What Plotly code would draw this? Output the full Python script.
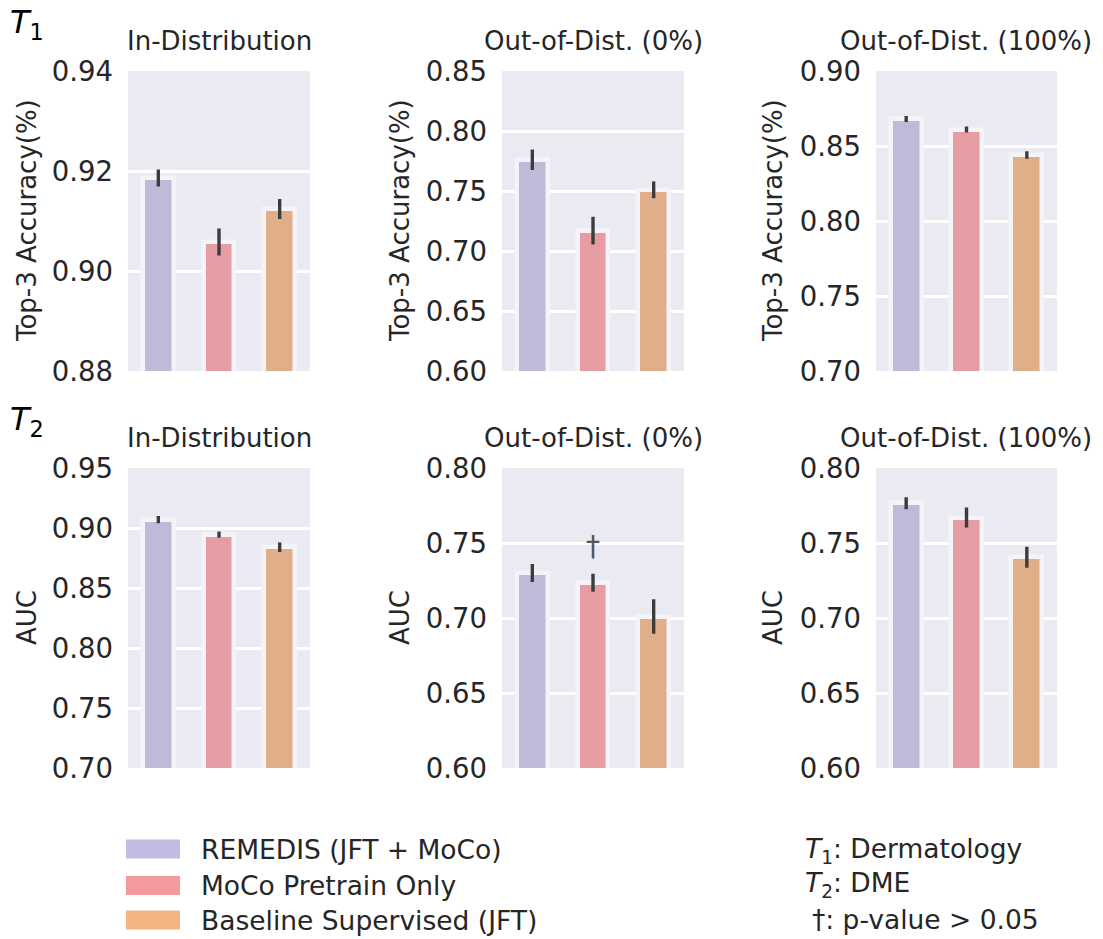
import plotly.graph_objects as go
from plotly.subplots import make_subplots

# ---- data -------------------------------------------------------------
methods = ["REMEDIS (JFT + MoCo)", "MoCo Pretrain Only", "Baseline Supervised (JFT)"]
bar_colors = ["#BEBBD9", "#E59DA3", "#E0AE89"]
legend_colors = ["#C1BCE1", "#F49A9F", "#F4B583"]

panel_titles = ["In-Distribution", "Out-of-Dist. (0%)", "Out-of-Dist. (100%)"]

# T1: Dermatology, top-3 accuracy (mean and error half-width per method)
t1_mean = [[0.9186, 0.9058, 0.9124],
           [0.776, 0.717, 0.751],
           [0.868, 0.861, 0.844]]
t1_err = [[0.0017, 0.0027, 0.0020],
          [0.0085, 0.0115, 0.0070],
          [0.0020, 0.0020, 0.0025]]

# T2: DME, AUC
t2_mean = [[0.907, 0.8945, 0.884],
           [0.730, 0.7235, 0.701],
           [0.7765, 0.767, 0.7405]]
t2_err = [[0.003, 0.0025, 0.004],
          [0.006, 0.006, 0.0115],
          [0.004, 0.0067, 0.007]]

t1_ranges = [[0.88, 0.94], [0.60, 0.85], [0.70, 0.90]]
t1_dticks = [0.02, 0.05, 0.05]
t2_ranges = [[0.70, 0.95], [0.60, 0.80], [0.60, 0.80]]
t2_dticks = [0.05, 0.05, 0.05]

row_labels = ["Top-3 Accuracy(%)", "AUC"]
task_tags = ["<i>T</i><sub>1</sub>", "<i>T</i><sub>2</sub>"]
task_notes = ["<i>T</i><sub>1</sub>: Dermatology", "<i>T</i><sub>2</sub>: DME", "†: p-value > 0.05"]

# (row, panel, method) pairs that are not significant (p > 0.05)
not_significant = [(1, 1, 1)]

# ---- layout geometry (pixels) -----------------------------------------
W, H = 1103, 939
col_px = [(128, 310), (502, 684), (876, 1057)]
row_px = [(71, 371), (468, 768)]
ylabel_x = [27, 400, 773]

INK = "#262626"
FONT = "DejaVu Sans"


def px_x(x):
    return x / W


def px_y(y):
    return 1 - y / H


fig = make_subplots(rows=2, cols=3)

means = [t1_mean, t2_mean]
errs = [t1_err, t2_err]
ranges = [t1_ranges, t2_ranges]
dticks = [t1_dticks, t2_dticks]

xs = [0, 1, 2]
annotations = []
shapes = []

for r in range(2):
    for c in range(3):
        fig.add_trace(
            go.Bar(
                x=xs,
                y=means[r][c],
                width=0.51,
                marker=dict(color=bar_colors,
                            line=dict(color="#F4F4F8", width=4.5)),
                error_y=dict(type="data", array=errs[r][c], visible=True,
                             color="#3C3C3C", thickness=3.4, width=0),
                showlegend=False,
                hoverinfo="skip",
            ),
            row=r + 1, col=c + 1,
        )
        idx = r * 3 + c + 1
        xa = "xaxis" if idx == 1 else f"xaxis{idx}"
        ya = "yaxis" if idx == 1 else f"yaxis{idx}"
        x0, x1 = col_px[c]
        y0, y1 = row_px[r]
        fig.layout[xa].update(
            domain=[px_x(x0), px_x(x1)], range=[-0.5, 2.5],
            showticklabels=False, showgrid=False, zeroline=False,
            showline=False, ticks="", automargin=False,
        )
        lo, hi = ranges[r][c]
        fig.layout[ya].update(
            domain=[px_y(y1), px_y(y0)], range=[lo, hi],
            dtick=dticks[r][c], tick0=lo, tickformat=".2f",
            showgrid=True, gridcolor="white", gridwidth=2.5,
            zeroline=False, showline=False, ticks="",
            ticklabelstandoff=14, automargin=False,
            tickfont=dict(size=27.5, color=INK, family=FONT),
        )
        # panel title
        annotations.append(dict(
            text=panel_titles[c], x=px_x((x0 + x1) / 2), y=px_y(y0 - 13),
            xref="paper", yref="paper", xanchor="center", yanchor="bottom",
            showarrow=False, font=dict(size=26, color=INK, family=FONT),
        ))
        # y-axis label
        annotations.append(dict(
            text=row_labels[r], x=px_x(ylabel_x[c]), y=px_y((y0 + y1) / 2),
            xref="paper", yref="paper", xanchor="center", yanchor="middle",
            textangle=-90, showarrow=False,
            font=dict(size=26, color=INK, family=FONT),
        ))

# task tags at the top-left of each row
for r, tag in enumerate(task_tags):
    annotations.append(dict(
        text=tag, x=px_x(8), y=px_y(row_px[r][0] - 47),
        xref="paper", yref="paper", xanchor="left", yanchor="middle",
        showarrow=False, font=dict(size=32, color="black", family=FONT),
    ))

# significance daggers above the error bars
for (r, c, m) in not_significant:
    idx = r * 3 + c + 1
    annotations.append(dict(
        text="†", x=m, y=means[r][c][m] + errs[r][c][m] + 0.018,
        xref=f"x{idx}", yref=f"y{idx}", xanchor="center", yanchor="middle",
        showarrow=False, font=dict(size=28, color="#555555", family=FONT),
    ))

# method legend (swatch + label)
legend_rows = [849, 885.5, 920]
for name, col, yc in zip(methods, legend_colors, legend_rows):
    shapes.append(dict(
        type="rect", xref="paper", yref="paper",
        x0=px_x(126), x1=px_x(180), y0=px_y(yc + 9.5), y1=px_y(yc - 9.5),
        fillcolor=col, line=dict(width=0),
    ))
    annotations.append(dict(
        text=name, x=px_x(199), y=px_y(yc),
        xref="paper", yref="paper", xanchor="left", yanchor="middle",
        showarrow=False, font=dict(size=26.5, color=INK, family=FONT),
    ))

# task notes
note_pos = [(803, 850), (803, 884), (810, 919)]
for txt, (nx, ny) in zip(task_notes, note_pos):
    annotations.append(dict(
        text=txt, x=px_x(nx), y=px_y(ny),
        xref="paper", yref="paper", xanchor="left", yanchor="middle",
        showarrow=False, font=dict(size=26.5, color=INK, family=FONT),
    ))

fig.update_layout(
    width=W, height=H,
    margin=dict(l=0, r=0, t=0, b=0, autoexpand=False),
    paper_bgcolor="white",
    plot_bgcolor="#EAEAF2",
    font=dict(family=FONT, color=INK),
    annotations=annotations,
    shapes=shapes,
    bargap=0,
)

fig.write_html("out.html")
